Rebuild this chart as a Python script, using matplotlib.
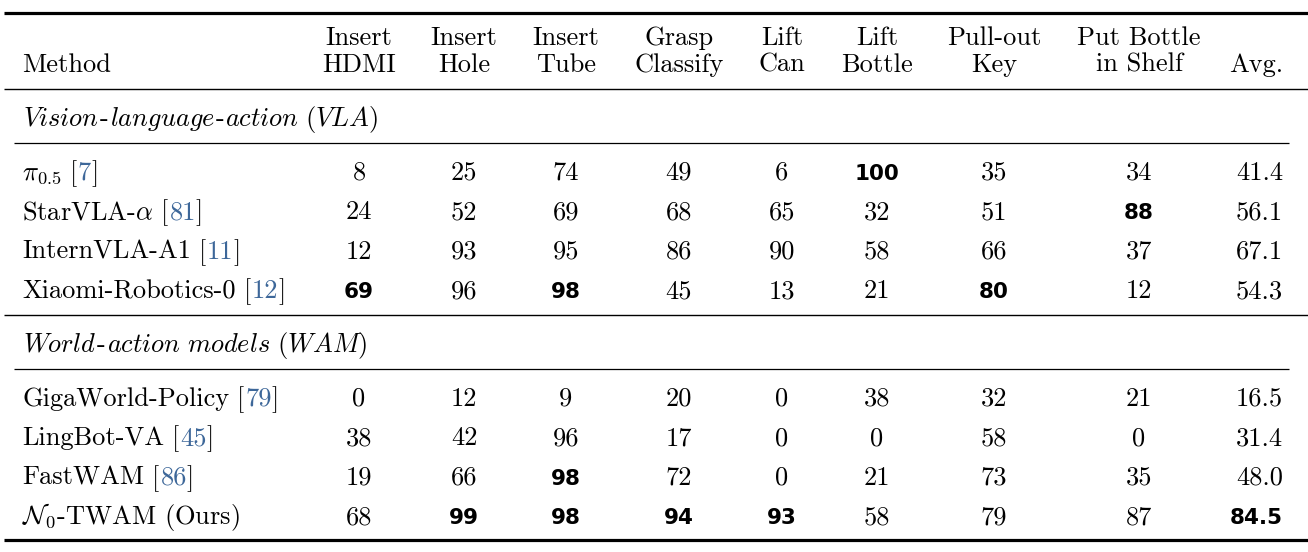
import matplotlib.pyplot as plt

plt.rcParams["font.family"] = "cmr10"
plt.rcParams["mathtext.fontset"] = "cm"
plt.rcParams["axes.formatter.use_mathtext"] = True

# table content
task_top = ["Insert", "Insert", "Insert", "Grasp", "Lift", "Lift", "Pull-out", "Put Bottle"]
task_bottom = ["HDMI", "Hole", "Tube", "Classify", "Can", "Bottle", "Key", "in Shelf"]

vla_label = ["Vision", "language", "action (VLA)"]
vla_methods = [r"$\pi_{0.5}$", r"StarVLA-$\alpha$", "InternVLA-A1", "Xiaomi-Robotics-0"]
vla_cites = ["7", "81", "11", "12"]
vla_scores = [
    [8, 25, 74, 49, 6, 100, 35, 34],
    [24, 52, 69, 68, 65, 32, 51, 88],
    [12, 93, 95, 86, 90, 58, 66, 37],
    [69, 96, 98, 45, 13, 21, 80, 12],
]
vla_avg = [41.4, 56.1, 67.1, 54.3]

wam_label = ["World", "action models (WAM)"]
wam_methods = ["GigaWorld-Policy", "LingBot-VA", "FastWAM", r"$\mathcal{N}_0$-TWAM (Ours)"]
wam_cites = ["79", "45", "86", ""]
wam_scores = [
    [0, 12, 9, 20, 0, 38, 32, 21],
    [38, 42, 96, 17, 0, 0, 58, 0],
    [19, 66, 98, 72, 0, 21, 73, 35],
    [68, 99, 98, 94, 93, 58, 79, 87],
]
wam_avg = [16.5, 31.4, 48.0, 84.5]

# layout (pixels, y grows downward)
W, H = 1308, 552
col_x = [359, 464, 566, 679, 782, 877, 994, 1139]
avg_right = 1283
method_x = 22
FS = 19
BOLD_FS = 15.5
CITE_COLOR = "#3d6799"

fig = plt.figure(figsize=(W / 100, H / 100), dpi=100)
ax = fig.add_axes([0, 0, 1, 1])
ax.set_xlim(0, W)
ax.set_ylim(H, 0)
ax.axis("off")
renderer = fig.canvas.get_renderer()

# best value per column gets bold
all_scores = vla_scores + wam_scores
col_best = [max(r[j] for r in all_scores) for j in range(len(task_top))]
best_avg = max(vla_avg + wam_avg)


def width_of(t):
    return t.get_window_extent(renderer).width


def put_pieces(x, y, pieces, **kw):
    # pieces: list of (text, color, gap_before)
    for txt, color, gap in pieces:
        x += gap
        t = ax.text(x, y, txt, color=color, fontsize=FS, va="baseline", ha="left", **kw)
        x += width_of(t)
    return x


def number(x, y, val, bold, ha="center"):
    if bold:
        ax.text(x, y, val, fontsize=BOLD_FS, fontfamily="DejaVu Sans", fontweight="bold",
                ha=ha, va="baseline")
    else:
        ax.text(x, y, val, fontsize=FS, ha=ha, va="baseline")


# rules
ax.plot([4, W], [13, 13], color="black", lw=2.3, solid_capstyle="butt")
ax.plot([4, W], [89, 89], color="black", lw=1.0, solid_capstyle="butt")
ax.plot([14, 1289], [143, 143], color="black", lw=0.9, solid_capstyle="butt")
ax.plot([4, W], [315, 315], color="black", lw=1.0, solid_capstyle="butt")
ax.plot([14, 1289], [369, 369], color="black", lw=0.9, solid_capstyle="butt")
ax.plot([4, W], [540, 540], color="black", lw=2.3, solid_capstyle="butt")

# header
ax.text(method_x, 72, "Method", fontsize=FS, va="baseline")
for x, top, bot in zip(col_x, task_top, task_bottom):
    ax.text(x, 45, top, fontsize=FS, ha="center", va="baseline")
    ax.text(x, 72, bot, fontsize=FS, ha="center", va="baseline")
ax.text(avg_right, 72, "Avg.", fontsize=FS, ha="right", va="baseline")


def section(label, y_label, methods, cites, scores, avgs, y0):
    pieces = []
    for i, word in enumerate(label):
        if i > 0:
            pieces.append(("-", "black", 1))
        pieces.append((r"$\mathit{" + word.replace(" ", r"\ ") + "}$", "black", 1))
    put_pieces(method_x, y_label, pieces)
    for i, (m, c, row, avg) in enumerate(zip(methods, cites, scores, avgs)):
        y = y0 + i * 39.4
        parts = [(m, "black", 0)]
        if c:
            parts += [("[", "black", 8), (c, CITE_COLOR, 1), ("]", "black", 0)]
        put_pieces(method_x, y, parts)
        for j, v in enumerate(row):
            number(col_x[j], y, str(v), v == col_best[j])
        number(avg_right, y, f"{avg:.1f}", avg == best_avg, ha="right")


section(vla_label, 126, vla_methods, vla_cites, vla_scores, vla_avg, 180)
section(wam_label, 352, wam_methods, wam_cites, wam_scores, wam_avg, 406)

fig.savefig("out.png", dpi=100)
